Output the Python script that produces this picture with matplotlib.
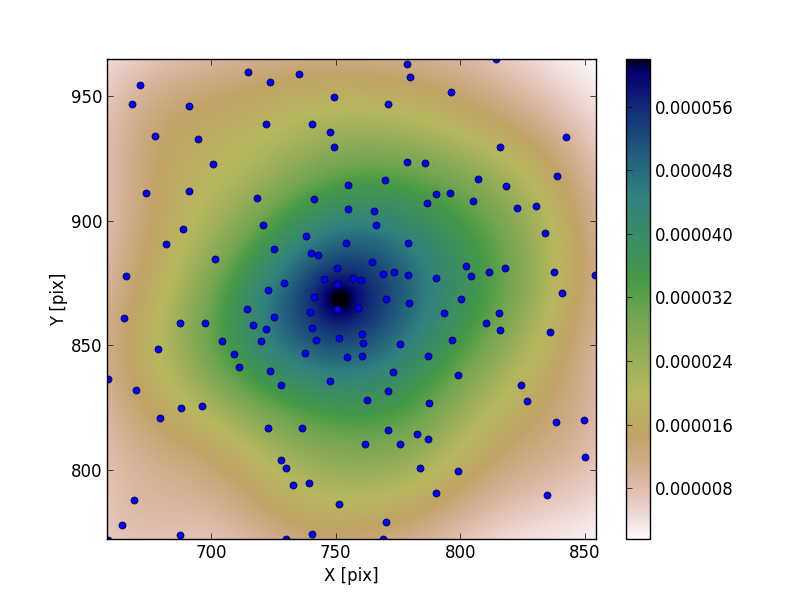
import numpy as np
import matplotlib
matplotlib.use('Agg')
import matplotlib.pyplot as plt

x = [671.6, 668.4, 690.9, 714.6, 723.8, 735.1, 749.1, 677.6, 694.9, 700.9, 721.8, 740.3, 747.5, 749.1, 754.7,
     674.0, 690.9, 718.2, 741.1, 754.7, 720.6, 688.5, 682.0, 737.9, 753.9, 725.4, 701.7, 739.9, 742.7, 750.3,
     666.0, 745.1, 757.1, 729.4, 750.3, 722.6, 741.1,
     778.4, 814.2, 779.6, 796.1, 770.8, 842.3, 815.8, 778.4, 785.7, 838.7, 807.0, 769.6, 818.2, 795.7, 790.1,
     804.9, 786.5, 830.2, 822.6, 765.2, 766.0, 833.9, 778.8, 764.4, 802.1, 817.8, 811.4, 837.5, 773.2, 768.8,
     778.8, 804.1, 853.9, 790.1, 760.0, 840.7, 770.0, 800.1,
     750.3, 714.2, 739.5, 665.2, 725.4, 687.3, 697.7, 716.6, 740.3, 721.8, 704.5, 719.8, 741.9, 751.1, 678.8,
     709.3, 737.5, 754.3, 711.0, 723.8, 658.7, 747.5, 728.2, 670.0, 696.5, 687.7, 679.6, 722.6, 736.3, 728.2,
     730.2, 739.1, 733.0, 669.2, 751.1, 664.4, 687.3, 740.3, 730.2, 658.7,
     779.2, 758.8, 793.3, 815.4, 810.2, 815.8, 835.9, 760.4, 760.8, 775.6, 796.5, 760.4, 786.9, 772.8, 798.9,
     770.8, 762.4, 787.3, 824.2, 826.6, 838.3, 849.5, 770.8, 782.4, 786.9, 761.6, 775.6, 849.9, 783.7, 798.9,
     790.1, 834.7, 770.0, 768.8]
y = [954.3, 946.7, 945.9, 959.5, 955.5, 958.7, 949.5, 934.2, 932.6, 922.6, 939.0, 939.0, 935.8, 929.4, 914.5,
     911.3, 912.1, 909.3, 908.9, 904.9, 898.1, 896.5, 890.5, 893.7, 890.9, 888.8, 884.8, 887.2, 886.4, 881.2,
     878.0, 876.8, 877.2, 875.2, 874.8, 872.4, 869.6,
     962.7, 964.8, 957.5, 951.5, 946.7, 933.8, 929.4, 923.4, 923.0, 917.8, 916.6, 916.2, 914.1, 911.3, 910.9,
     908.1, 907.3, 906.1, 905.3, 904.1, 898.1, 894.9, 890.9, 883.6, 882.0, 881.2, 879.6, 879.6, 879.6, 878.8,
     878.4, 878.0, 878.4, 877.2, 876.4, 871.2, 868.4, 868.4,
     864.7, 864.7, 863.5, 861.1, 861.5, 859.1, 859.1, 858.3, 857.1, 856.7, 851.9, 851.9, 852.3, 853.1, 848.7,
     846.7, 847.1, 845.5, 841.4, 839.8, 836.6, 835.8, 834.2, 832.2, 825.8, 825.0, 821.0, 817.0, 817.0, 804.1,
     800.9, 794.9, 794.1, 788.0, 786.4, 778.0, 774.0, 774.4, 772.4, 772.0,
     866.8, 865.1, 863.1, 863.1, 859.1, 856.3, 855.5, 854.7, 851.1, 850.7, 852.3, 845.9, 845.9, 839.4, 838.2,
     831.8, 828.2, 827.0, 834.2, 827.8, 819.4, 820.2, 816.1, 814.5, 812.5, 810.5, 810.5, 805.3, 800.9, 799.7,
     790.9, 790.0, 779.2, 772.4]
cbar_ticks = [0.000008, 0.000016, 0.000024, 0.000032, 0.000040, 0.000048, 0.000056]

# dark core of the map, it sits between the points
core_x = 751.5
core_y = 868.5
core_amp = 0.000006
core_width = 6.0

xlim = (658.2, 854.4)
ylim = (772.3, 964.9)

plt.rcParams['xtick.direction'] = 'in'
plt.rcParams['ytick.direction'] = 'in'
plt.rcParams['xtick.top'] = True
plt.rcParams['ytick.right'] = True
plt.rcParams['xtick.major.size'] = 4
plt.rcParams['ytick.major.size'] = 4
plt.rcParams['xtick.major.width'] = 0.5
plt.rcParams['ytick.major.width'] = 0.5
plt.rcParams['axes.linewidth'] = 1.0
plt.rcParams['font.size'] = 12


def kde(px, py, gx, gy, h):
    # plain gaussian kernel density, same width on both axes
    d2 = (gx[..., None] - px) ** 2 + (gy[..., None] - py) ** 2
    return np.exp(-d2 / (2 * h ** 2)).sum(axis=-1) / (2 * np.pi * h ** 2 * len(px))


x = np.array(x)
y = np.array(y)
gx, gy = np.meshgrid(np.linspace(xlim[0], xlim[1], 200), np.linspace(ylim[0], ylim[1], 200))
dens = kde(x, y, gx, gy, 24.0)
dens = dens + core_amp * np.exp(-((gx - core_x) ** 2 + (gy - core_y) ** 2) / (2 * core_width ** 2))

fig = plt.figure(figsize=(8, 6), dpi=100)
ax = fig.add_axes([107 / 800, 61 / 600, 489 / 800, 480 / 600])
im = ax.imshow(dens, origin='lower', extent=[xlim[0], xlim[1], ylim[0], ylim[1]],
               cmap='gist_earth_r', aspect='auto', vmin=1.6e-6, vmax=6.2e-5)
ax.scatter(x, y, s=26, c='b', edgecolors='#000030', linewidths=0.5)
ax.set_xlim(xlim)
ax.set_ylim(ylim)
ax.set_xticks([700, 750, 800, 850])
ax.set_yticks([800, 850, 900, 950])
ax.set_xlabel('X [pix]')
ax.set_ylabel('Y [pix]', labelpad=2)

cax = fig.add_axes([626 / 800, 61 / 600, 24 / 800, 480 / 600])
cb = fig.colorbar(im, cax=cax, ticks=cbar_ticks, format='%.6f')
cb.ax.tick_params(direction='in', length=4, width=0.5, left=True, right=False)
cb.outline.set_linewidth(1.0)

fig.savefig('out.png', dpi=100)
